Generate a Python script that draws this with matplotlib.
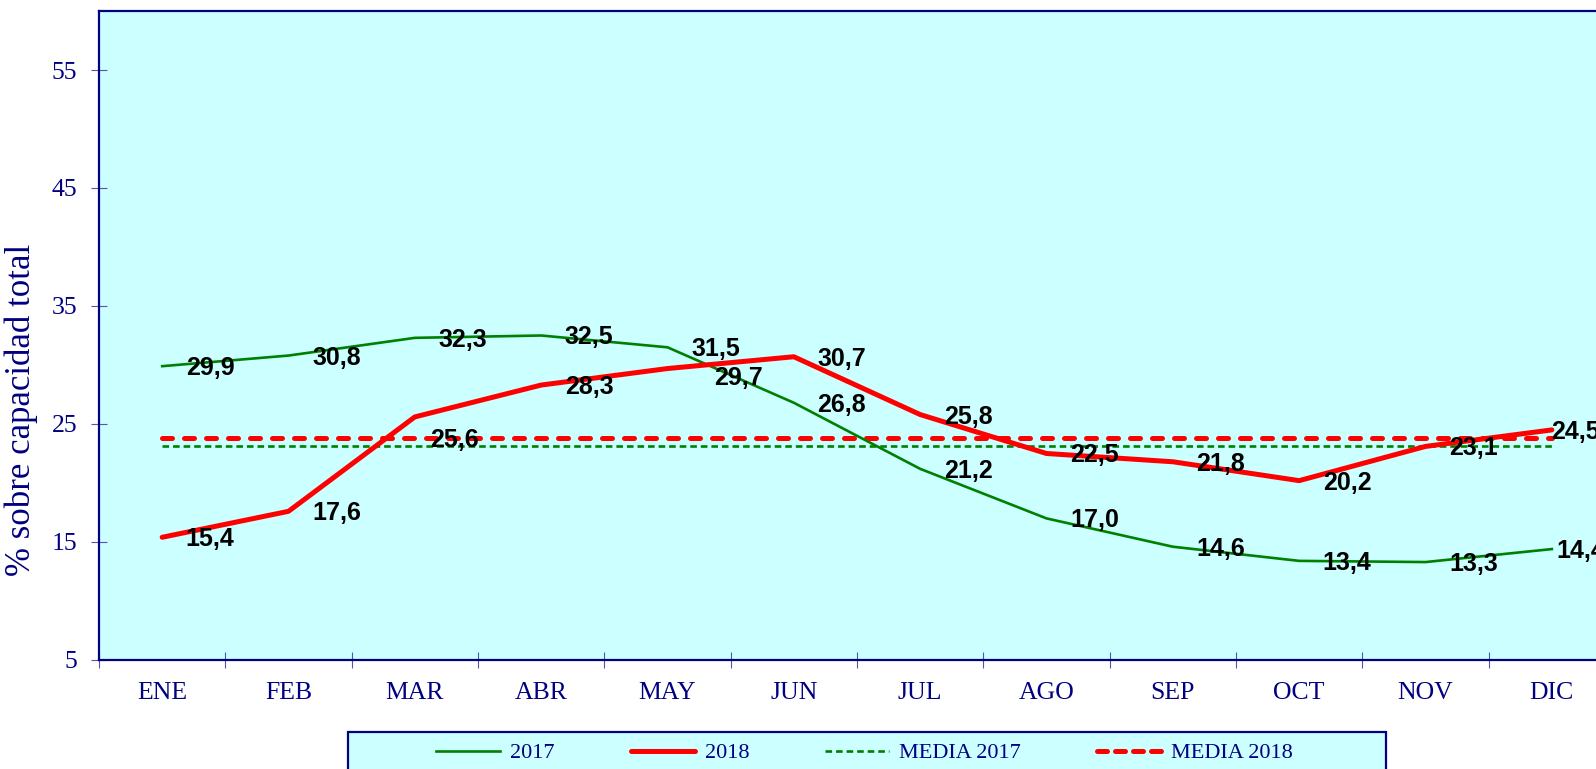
import matplotlib
matplotlib.use("Agg")
import matplotlib.pyplot as plt
from matplotlib.lines import Line2D
from matplotlib.patches import Rectangle

months = ["ENE", "FEB", "MAR", "ABR", "MAY", "JUN", "JUL", "AGO", "SEP", "OCT", "NOV", "DIC"]
s2017 = [29.9, 30.8, 32.3, 32.5, 31.5, 26.8, 21.2, 17.0, 14.6, 13.4, 13.3, 14.4]
s2018 = [15.4, 17.6, 25.6, 28.3, 29.7, 30.7, 25.8, 22.5, 21.8, 20.2, 23.1, 24.5]
media2017 = 23.1
media2018 = 23.8
yticks = [5, 15, 25, 35, 45, 55]
series_names = ["2017", "2018", "MEDIA 2017", "MEDIA 2018"]
ylabel = "% sobre capacidad total"

NAVY = "#000080"
BG = "#CCFFFF"
GREEN = "#008000"
RED = "#FF0000"
SERIF = ["Liberation Serif", "DejaVu Serif"]
SANS = ["Liberation Sans", "DejaVu Sans"]

W, H = 1596, 769
fig = plt.figure(figsize=(W / 100, H / 100), dpi=100)
ax = fig.add_axes([99 / W, 1 - 660 / H, 1516 / W, 649 / H])
ax.set_facecolor(BG)

x = [i + 0.5 for i in range(len(months))]

ax.plot([x[0], x[-1]], [media2017, media2017], color=GREEN, lw=1.9,
        dashes=(2.5, 1.5), dash_capstyle="butt", zorder=2)
ax.plot([x[0], x[-1]], [media2018, media2018], color=RED, lw=3.6,
        dashes=(2.0, 2.4), dash_capstyle="round", zorder=3)
ax.plot(x, s2017, color=GREEN, lw=1.9, zorder=4, solid_joinstyle="round")
ax.plot(x, s2018, color=RED, lw=3.6, zorder=5, solid_joinstyle="round",
        solid_capstyle="round")

def fmt(v):
    return f"{v:.1f}".replace(".", ",")

special = {("2018", 2): (40, -23), ("2018", 4): (71, -9)}
for name, ser in (("2017", s2017), ("2018", s2018)):
    for i, v in enumerate(ser):
        dx, dy = special.get((name, i), (48, -2))
        if i == len(ser) - 1:
            dx = 24 if name == "2018" else 29
        ax.annotate(fmt(v), (x[i], v), xytext=(dx, dy), textcoords="offset pixels",
                    ha="center", va="center", fontsize=18, fontweight="bold",
                    family=SANS, color="black", zorder=6, annotation_clip=False)

ax.set_xlim(0, 12)
ax.set_ylim(5, 60)

ax.set_yticks(yticks)
ax.set_yticklabels([str(t) for t in yticks])
ax.set_xticks(range(13))
ax.set_xticklabels([])
ax.set_xticks(x, minor=True)
ax.set_xticklabels(months, minor=True)

ax.tick_params(axis="y", which="major", direction="inout", length=11.5, width=0.8,
               color="#5555AA", labelcolor=NAVY, labelsize=18.5, pad=10)
ax.tick_params(axis="x", which="major", direction="inout", length=11.5, width=0.8,
               color="#5555AA")
ax.tick_params(axis="x", which="minor", length=0, labelcolor=NAVY, labelsize=18.5, pad=16)
for lab in ax.get_yticklabels() + ax.get_xticklabels(minor=True):
    lab.set_family(SERIF)

for side in ("left", "bottom", "top"):
    ax.spines[side].set_color(NAVY)
    ax.spines[side].set_linewidth(1.6)
ax.spines["right"].set_visible(False)

ax.set_ylabel(ylabel, family=SERIF, fontsize=25, color=NAVY)
ax.yaxis.set_label_coords(-0.0405, 0.385)

# legend box
rect = Rectangle((348 / W, -0.1), (1386 - 348) / W, 0.1 + (1 - 732 / H),
                 transform=fig.transFigure, facecolor=BG, edgecolor=NAVY,
                 linewidth=1.6, zorder=0)
fig.patches.append(rect)

handles = [
    Line2D([], [], color=GREEN, lw=1.9),
    Line2D([], [], color=RED, lw=3.6, solid_capstyle="round"),
    Line2D([], [], color=GREEN, lw=1.9, dashes=(2.5, 1.5)),
    Line2D([], [], color=RED, lw=3.6, dashes=(2.0, 1.6), dash_capstyle="round"),
]
leg = fig.legend(handles, series_names, ncol=4, loc="center",
                 bbox_to_anchor=(864.5 / W, 1 - 753 / H), frameon=False,
                 handlelength=2.9, handletextpad=0.45, columnspacing=3.4,
                 prop={"family": SERIF, "size": 16}, labelcolor=NAVY)

fig.savefig("out.png", dpi=100, facecolor="white")
